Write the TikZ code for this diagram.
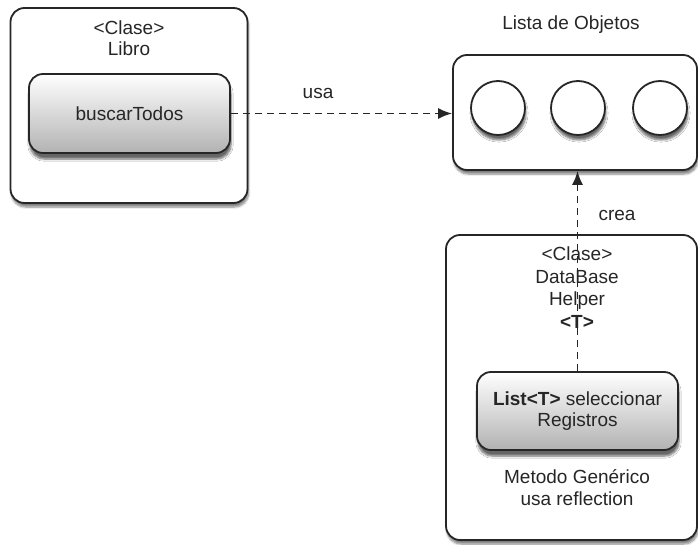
\documentclass[tikz,border=0pt]{standalone}
\usepackage{fontspec}
\setmainfont{Liberation Sans}
\usetikzlibrary{arrows.meta,shadows.blur}
\begin{document}
\begin{tikzpicture}[x=1pt,y=-1pt,
  txt/.style={font=\fontsize{19}{21.5}\selectfont, align=center, text=black!85},
  classbox/.style={draw=black!85, line width=1.8pt, rounded corners=14pt, fill=white,
    blur shadow={shadow xshift=1pt, shadow yshift=-4pt, shadow blur steps=6, shadow opacity=50}},
  methodbox/.style={draw=black!85, line width=1.8pt, rounded corners=14pt,
    top color=white, bottom color=black!30,
    blur shadow={shadow xshift=1pt, shadow yshift=-6pt, shadow blur steps=6, shadow opacity=60},
    font=\fontsize{19}{21.5}\selectfont, align=center, text=black!85},
  obj/.style={circle, draw=black!85, line width=1.8pt, fill=white, minimum size=54pt,
    blur shadow={shadow xshift=1pt, shadow yshift=-5pt, shadow blur steps=6, shadow opacity=60}},
  link/.style={draw=black!85, line width=1.8pt, dash pattern=on 7pt off 5pt,
    -{Latex[length=14pt,width=11pt]}}]
\useasboundingbox (0,0) rectangle (698,545);

% class Libro
\node[classbox, minimum width=237pt, minimum height=195pt] (libro) at (129,105.5) {};
\node[txt] (librotitle) at (129,38) {<Clase>\\Libro};
\node[methodbox, minimum width=201pt, minimum height=79pt] (buscar) at (129.5,113.5) {buscarTodos};

% list of objects
\node[txt] (listatitle) at (571,25) {Lista de Objetos};
\node[classbox, minimum width=244pt, minimum height=115pt] (lista) at (575,112.5) {};
\node[obj] (o1) at (498,108) {};
\node[obj] (o2) at (578,108) {};
\node[obj] (o3) at (660,108) {};

% class DataBase Helper
\node[classbox, minimum width=251pt, minimum height=305pt] (db) at (571.5,387.5) {};
\node[txt, font=\fontsize{19}{22.5}\selectfont] (dbtitle) at (577,287.5) {<Clase>\\DataBase\\Helper\\\textbf{<T>}};
\node[methodbox, minimum width=201pt, minimum height=78pt] (selreg) at (577.5,411) {\textbf{List<T>} seleccionar\\Registros};
\node[txt] (dbnote) at (577,487.5) {Metodo Genérico\\usa reflection};

% connectors
\draw[link] (buscar.east) -- (lista.west |- buscar.east);
\node[txt] (usa) at (318,93) {usa};
\draw[link] (selreg.north) -- (selreg.north |- lista.south);
\node[txt] (crea) at (617,215) {crea};
\end{tikzpicture}
\end{document}
